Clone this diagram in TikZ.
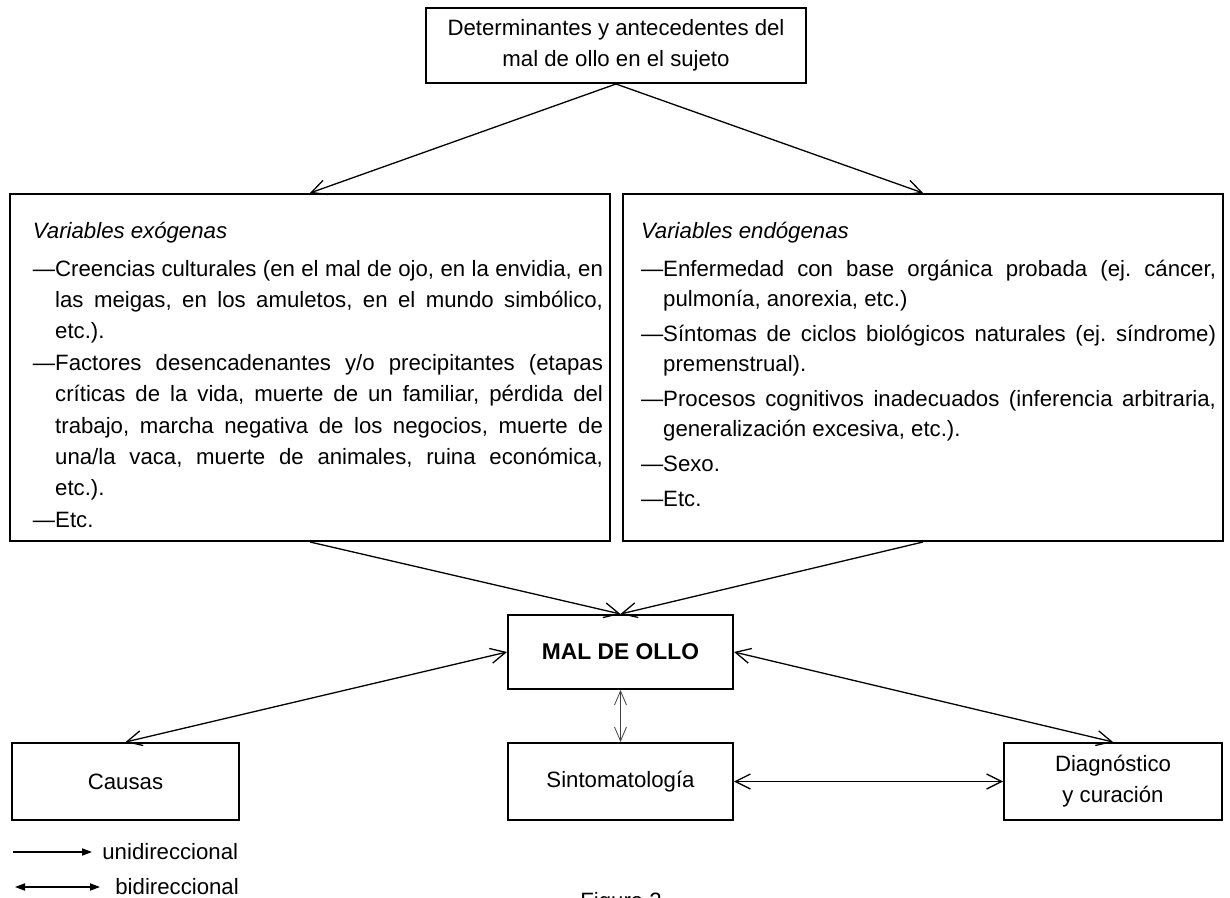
\documentclass[tikz,border=0pt]{standalone}
\usepackage{fontspec}
\setmainfont{Liberation Sans}
\usetikzlibrary{arrows.meta}
\newcommand\myfs{\fontsize{11.1}{15.5}\selectfont}
\newcommand\myitem{\par\noindent\hangindent=1em\hangafter=1 —}
\frenchspacing
\begin{document}
\begin{tikzpicture}[x=0.5pt,y=-0.5pt,
  box/.style={draw, line width=1pt, inner sep=0pt, font=\myfs, align=center},
  bigbox/.style={draw, line width=1pt, inner sep=0pt, anchor=north west},
  barb/.tip={Straight Barb[length=7.5pt,width=7.5pt]},
  conn/.style={line width=0.65pt, -barb},
  conntwo/.style={line width=0.65pt, barb-barb},
  thinconn/.style={line width=0.4pt, black!75, {Straight Barb[length=7pt,width=6pt]}-{Straight Barb[length=7pt,width=6pt]}},
  legline/.style={line width=0.6pt},
  lab/.style={font=\myfs, anchor=west, inner ysep=0pt}
]
\useasboundingbox (0,0) rectangle (1230,898);

% top box
\node[box, minimum width=190pt, minimum height=37.5pt] (top) at (616,45.5)
  {Determinantes y antecedentes del\\mal de ollo en el sujeto};

% exogenous
\node[bigbox] (exo) at (9,193) {\parbox[c][173.5pt][t]{300pt}{%
  \leftskip=11.5pt \rightskip=3.5pt \parindent=0pt \parskip=0pt
  \fontsize{11.1}{15.7}\selectfont
  \tolerance=10000 \hyphenpenalty=10000
  \noindent\rule{0pt}{22pt}\textit{Variables exógenas}\par
  \vspace{3.3pt}%
  \myitem Creencias culturales (en el mal de ojo, en la envidia, en\linebreak
  las meigas, en los amuletos, en el mundo simbólico,\linebreak
  etc.).\par
  \myitem Factores desencadenantes y/o precipitantes (etapas\linebreak
  críticas de la vida, muerte de un familiar, pérdida del\linebreak
  trabajo, marcha negativa de los negocios, muerte de\linebreak
  una/la vaca, muerte de animales, ruina económica,\linebreak
  etc.).\par
  \myitem Etc.\par}};

% endogenous
\node[bigbox] (endo) at (622,193) {\parbox[c][173.5pt][t]{300pt}{%
  \leftskip=9pt \rightskip=3.5pt \parindent=0pt
  \fontsize{11.1}{15}\selectfont \parskip=2.5pt
  \tolerance=10000 \hyphenpenalty=10000
  \noindent\rule{0pt}{22pt}\textit{Variables endógenas}\par
  \vspace{1.5pt}%
  \myitem Enfermedad con base orgánica probada (ej. cáncer,\linebreak
  pulmonía, anorexia, etc.)\par
  \myitem Síntomas de ciclos biológicos naturales (ej. síndrome)\linebreak
  premenstrual).\par
  \myitem Procesos cognitivos inadecuados (inferencia arbitraria,\linebreak
  generalización excesiva, etc.).\par
  \myitem Sexo.\par
  \myitem Etc.\par}};

% central and lower boxes
\node[box, minimum width=112.5pt, minimum height=37pt, font=\fontsize{11.4}{14}\selectfont\bfseries] (mal) at (620.5,652) {MAL DE OLLO};
\node[box, minimum width=112.5pt, minimum height=38.5pt] (sint) at (620.5,781.5) {Sintomatología};
\node[box, minimum width=113.5pt, minimum height=38.5pt] (causas) at (125.5,781.5) {Causas};
\node[box, minimum width=109pt, minimum height=38.5pt] (diag) at (1113,781.5) {Diagnóstico\\y curación};

% connectors
\draw[conn] (top.south) -- (exo.north);
\draw[conn] (top.south) -- (endo.north);
\draw[conn] (exo.south) -- (mal.north);
\draw[conn] (endo.south) -- (mal.north);
\draw[conntwo] (causas.north) -- (mal.west);
\draw[conntwo] (mal.east) -- (diag.north);
\draw[thinconn] (mal.south) -- (sint.north);
\draw[conntwo] (sint.east) -- (diag.west);

% legend
\coordinate (u1) at (13,852);
\node[lab, inner xsep=5pt] (ulab) at (92,852) {unidireccional};
\draw[legline, -{Triangle[length=5pt,width=3.6pt]}] (u1) -- (ulab);
\node[lab, inner xsep=7.5pt] (blab) at (100,887) {bidireccional};
\coordinate (b1) at (15,887);
\draw[legline, {Triangle[length=5pt,width=3.6pt]}-{Triangle[length=5pt,width=3.6pt]}] (b1) -- (blab);

\node[font=\myfs, anchor=north west, inner sep=0pt] (fig) at (580,892) {Figura 2};
\end{tikzpicture}
\end{document}
